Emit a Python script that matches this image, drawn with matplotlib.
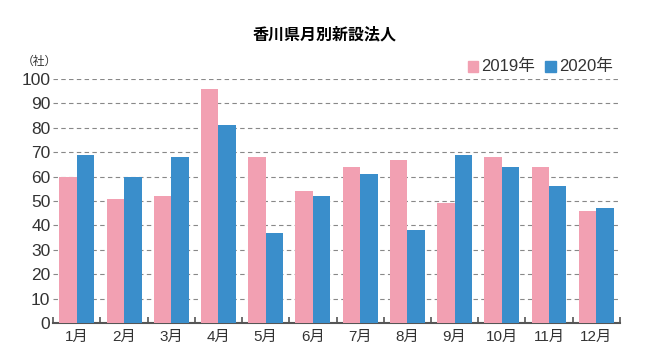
import numpy as np
import matplotlib
matplotlib.use("Agg")
import matplotlib.pyplot as plt

plt.rcParams['font.family'] = ['Liberation Sans', 'Noto Sans CJK JP', 'DejaVu Sans']

# monthly new companies in Kagawa
months = ['1月', '2月', '3月', '4月', '5月', '6月', '7月', '8月', '9月', '10月', '11月', '12月']
v2019 = [60, 51, 52, 96, 68, 54, 64, 67, 49, 68, 64, 46]
v2020 = [69, 60, 68, 81, 37, 52, 61, 38, 69, 64, 56, 47]
yticks = [0, 10, 20, 30, 40, 50, 60, 70, 80, 90, 100]

pink = '#f2a0b2'
blue = '#3a8ecb'
grey = '#555555'
txt = '#333333'

fig = plt.figure(figsize=(6.49, 3.59), dpi=100)
ax = fig.add_axes([0.082, 0.100, 0.873, 0.680])

x = np.arange(len(months))
w = 0.37
ax.bar(x - w / 2, v2019, width=w, color=pink, zorder=3)
ax.bar(x + w / 2, v2020, width=w, color=blue, zorder=3)

ax.set_xlim(-0.5, len(months) - 0.5)
ax.set_ylim(0, 100)
ax.set_yticks(yticks)
ax.set_yticklabels([str(t) for t in yticks], fontsize=12.5, color=txt)

# dashed grid
ax.grid(axis='y', linestyle=(0, (4, 3)), color='#888888', linewidth=0.8, zorder=0)

for s in ['top', 'right', 'left']:
    ax.spines[s].set_visible(False)
ax.spines['bottom'].set_color(grey)
ax.spines['bottom'].set_linewidth(1.5)

# month labels centred, ticks at group boundaries
ax.set_xticks(x)
ax.set_xticklabels(months, fontsize=11, color=txt)
ax.tick_params(axis='x', length=0, pad=5)
ax.set_xticks(np.arange(-0.5, len(months), 1), minor=True)
ax.tick_params(axis='x', which='minor', direction='in', length=4, width=1.2, color=grey)
ax.tick_params(axis='y', length=0, pad=2)

fig.text(0.5, 0.905, '香川県月別新設法人', ha='center', va='center', fontsize=11.5,
         fontweight='bold', family=['Noto Sans CJK JP'])
fig.text(0.06, 0.828, '（社）', ha='center', va='center', fontsize=8.5, color=txt,
         family=['Noto Sans CJK JP'])

# legend
fig.patches.append(plt.Rectangle((0.721, 0.800), 0.016, 0.030, transform=fig.transFigure, color=pink))
fig.text(0.742, 0.815, '2019年', ha='left', va='center', fontsize=12, color=txt)
fig.patches.append(plt.Rectangle((0.840, 0.800), 0.016, 0.030, transform=fig.transFigure, color=blue))
fig.text(0.861, 0.815, '2020年', ha='left', va='center', fontsize=12, color=txt)

fig.savefig('out.png', dpi=100)
